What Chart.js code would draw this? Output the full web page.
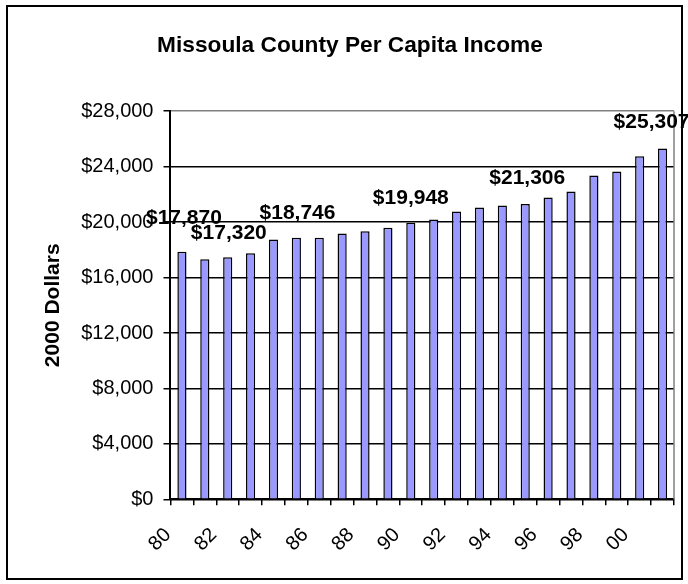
<!DOCTYPE html>
<html>
<head>
<meta charset="utf-8">
<script src="https://cdn.jsdelivr.net/npm/chart.js@4.4.0/dist/chart.umd.min.js"></script>
<style>
  html, body { margin: 0; padding: 0; background: #fff; }
  #wrap { width: 688px; height: 584px; position: relative; }
</style>
</head>
<body>
<div id="wrap"><canvas id="c" width="688" height="584"></canvas></div>
<script>
// ---- data ----
const years = ['80','81','82','83','84','85','86','87','88','89','90','91','92','93','94','95','96','97','98','99','00','01'];
const income = [17870, 17320, 17470, 17750, 18746, 18880, 18870, 19170, 19340, 19600, 19948, 20190, 20760, 21050, 21195, 21306, 21770, 22200, 23360, 23650, 24760, 25307];
const labelledYears = ['80', '81', '84', '90', '95', '01'];
const yTicks = [0, 4000, 8000, 12000, 16000, 20000, 24000, 28000];
const chartTitle = 'Missoula County Per Capita Income';
const yTitle = '2000 Dollars';

const FONT = "'Liberation Sans', Arial, sans-serif";

// label nudges (style only)
const labelNudge = { '80': [2, 33], '81': [24, 26], '84': [24, 26], '90': [0, 25], '95': [2, 26], '01': [-11, 26] };

const fmt = v => '$' + Number(v).toLocaleString('en-US');

const decor = {
  id: 'decor',
  afterDraw(chart) {
    const ctx = chart.ctx;
    const a = chart.chartArea;
    ctx.save();
    // plot area right border (gray)
    ctx.strokeStyle = '#808080';
    ctx.lineWidth = 1.5;
    ctx.beginPath();
    ctx.moveTo(a.right, a.top);
    ctx.lineTo(a.right, a.bottom);
    ctx.stroke();
    // data labels
    const meta = chart.getDatasetMeta(0);
    ctx.fillStyle = '#000';
    ctx.font = "bold 21px " + FONT;
    ctx.textAlign = 'center';
    ctx.textBaseline = 'middle';
    years.forEach((yr, i) => {
      if (!labelledYears.includes(yr)) return;
      const el = meta.data[i];
      const n = labelNudge[yr] || [0, 26];
      ctx.fillText(fmt(income[i]), el.x + n[0], el.y - n[1]);
    });
    // outer frame
    ctx.strokeStyle = '#000';
    ctx.lineWidth = 2;
    ctx.strokeRect(7, 6, 675, 573);
    ctx.restore();
  }
};

new Chart(document.getElementById('c'), {
  type: 'bar',
  data: {
    labels: years,
    datasets: [{
      data: income,
      backgroundColor: '#9999FF',
      borderColor: '#000000',
      borderWidth: 1.5,
      barPercentage: 0.4,
      categoryPercentage: 1.0
    }]
  },
  options: {
    responsive: false,
    animation: false,
    devicePixelRatio: 1,
    layout: { padding: { left: 26, right: 14, top: 32, bottom: 10 } },
    plugins: {
      legend: { display: false },
      tooltip: { enabled: false },
      title: {
        display: true,
        text: chartTitle,
        color: '#000',
        font: { family: FONT, size: 22.7, weight: 'bold' },
        padding: { top: 0, bottom: 52 }
      }
    },
    scales: {
      x: {
        offset: true,
        afterFit: axis => { axis.paddingRight = 0; axis.paddingLeft = 0; },
        border: { display: true, color: '#000', width: 2 },
        grid: { display: true, offset: true, drawOnChartArea: false, drawTicks: true, tickLength: 6, color: '#000', lineWidth: 1.5 },
        ticks: {
          autoSkip: false,
          minRotation: 45,
          maxRotation: 45,
          padding: 18,
          labelOffset: -14,
          color: '#000',
          font: { family: FONT, size: 20 },
          callback: (v, i) => (i % 2 === 0 ? years[i] : '')
        }
      },
      y: {
        min: 0,
        max: 28000,
        border: { display: true, color: '#000', width: 2 },
        afterBuildTicks: axis => { axis.ticks = yTicks.map(v => ({ value: v })); },
        grid: {
          color: c => (c.tick && c.tick.value === 28000 ? '#808080' : '#000'),
          tickColor: '#000',
          lineWidth: 1.5,
          tickLength: 7
        },
        ticks: {
          padding: 10,
          color: '#000',
          font: { family: FONT, size: 20 },
          callback: v => fmt(v)
        },
        title: {
          display: true,
          text: yTitle,
          color: '#000',
          font: { family: FONT, size: 21, weight: 'bold' },
          padding: { top: 15, bottom: 5 }
        }
      }
    }
  },
  plugins: [decor]
});
</script>
</body>
</html>
